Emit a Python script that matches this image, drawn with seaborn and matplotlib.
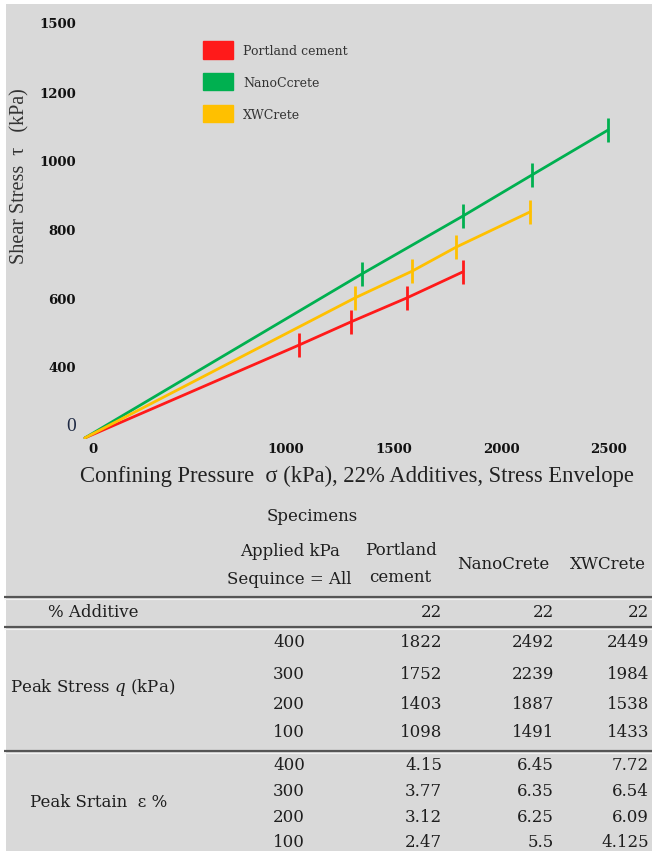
import numpy as np
import pandas as pd
import matplotlib
matplotlib.use("Agg")
import matplotlib.pyplot as plt
from matplotlib.patches import Patch
import seaborn as sns

# ---------------- data ----------------
specimens = ["Portland cement", "NanoCcrete", "XWCrete"]
colors = ["#ff1a1a", "#00b050", "#ffc000"]
origin_sigma = 66
origin_tau = 190
portland_sigma = [1060, 1302, 1562, 1822]
portland_tau = [461, 529, 599, 675]
nano_sigma = [1353, 1822, 2143, 2496]
nano_tau = [669, 838, 958, 1089]
xw_sigma = [1321, 1586, 1790, 2134]
xw_tau = [599, 677, 747, 850]

x_tick_labels = ["0", "1000", "1500", "2000", "2500"]
y_tick_labels = ["0", "400", "600", "800", "1000", "1200", "1500"]

# table data
table_cols = ["Portland\ncement", "NanoCrete", "XWCrete"]
additive_pct = ["22", "22", "22"]
applied_kpa = ["400", "300", "200", "100"]
peak_q_portland = ["1822", "1752", "1403", "1098"]
peak_q_nano = ["2492", "2239", "1887", "1491"]
peak_q_xw = ["2449", "1984", "1538", "1433"]
peak_e_portland = ["4.15", "3.77", "3.12", "2.47"]
peak_e_nano = ["6.45", "6.35", "6.25", "5.5"]
peak_e_xw = ["7.72", "6.54", "6.09", "4.125"]

# ---------------- build frames ----------------
rows = []
pts = []
for name, sx, ty in [(specimens[0], portland_sigma, portland_tau),
                     (specimens[1], nano_sigma, nano_tau),
                     (specimens[2], xw_sigma, xw_tau)]:
    rows.append((name, origin_sigma, origin_tau))
    for a, b in zip(sx, ty):
        rows.append((name, a, b))
        pts.append((name, a, b))
df_line = pd.DataFrame(rows, columns=["Specimen", "sigma", "tau"])
df_pts = pd.DataFrame(pts, columns=["Specimen", "sigma", "tau"])
palette = dict(zip(specimens, colors))

# ---------------- figure ----------------
sns.set_style("white")
plt.rcParams["mathtext.fontset"] = "custom"
plt.rcParams["mathtext.it"] = "DejaVu Serif:italic"
plt.rcParams["mathtext.rm"] = "DejaVu Serif"

W, H = 652, 854
fig = plt.figure(figsize=(W / 100, H / 100), dpi=100, facecolor="white")

# background panel in pixel coordinates
bg = fig.add_axes([0, 0, 1, 1], zorder=0)
bg.set_xlim(0, W)
bg.set_ylim(H, 0)
bg.axis("off")
bg.add_patch(plt.Rectangle((6, 5), W - 6, H - 7, facecolor="#d9d9d9",
                           edgecolor="none"))

# chart axes: left 80px, right 640px, top 10px, bottom 440px
L, R, T, B = 80, 640, 10, 440
ax = fig.add_axes([L / W, 1 - B / H, (R - L) / W, (B - T) / H], zorder=2)
ax.patch.set_alpha(0)

sns.lineplot(data=df_line, x="sigma", y="tau", hue="Specimen", palette=palette,
             sort=False, estimator=None, linewidth=2.0, legend=False, ax=ax)
for name in specimens:
    sub = df_pts[df_pts["Specimen"] == name]
    ax.scatter(sub["sigma"], sub["tau"], marker="|", s=300,
               color=palette[name], linewidths=2.0, zorder=3)

# px mappings: x_px = 70.7 + 0.2153*v ; y_px = 504 - 0.3425*v
ax.set_xlim((L - 70.7) / 0.2153, (R - 70.7) / 0.2153)
ax.set_ylim((504 - B) / 0.3425, (504 - T) / 0.3425)
for s in ax.spines.values():
    s.set_visible(False)

xt = [(93 - 70.7) / 0.2153, 1000, 1500, 2000, 2500]
yt = [(504 - 425) / 0.3425, 400, 600, 800, 1000, 1200, (504 - 23) / 0.3425]
ax.set_xticks(xt)
ax.set_xticklabels(x_tick_labels)
ax.set_yticks(yt)
ax.set_yticklabels(y_tick_labels)
ax.tick_params(length=0, pad=3)
for lab in ax.get_xticklabels() + ax.get_yticklabels():
    lab.set_fontfamily("DejaVu Serif")
    lab.set_fontweight("bold")
    lab.set_fontsize(9.5)
    lab.set_color("#111111")
zero_lab = ax.get_yticklabels()[0]
zero_lab.set_fontfamily("Liberation Serif")
zero_lab.set_fontweight("normal")
zero_lab.set_fontsize(14)
zero_lab.set_color("#1f2a44")
ax.tick_params(axis="x", pad=2)

ax.set_xlabel("Confining Pressure  \u03c3 (kPa), 22% Additives, Stress Envelope",
              fontfamily="Liberation Serif", fontsize=16.3, color="#222222")
ax.xaxis.set_label_coords((357 - L) / (R - L), (B - 466) / (B - T))
ax.set_ylabel("Shear Stress  \u03c4   (kPa)", fontfamily="Liberation Serif",
              fontsize=14.5, color="#333333")
ax.yaxis.set_label_coords((29 - L) / (R - L), (B - 176) / (B - T))

handles = [Patch(facecolor=c, edgecolor=c) for c in colors]
leg = ax.legend(handles, specimens, loc="upper left",
                bbox_to_anchor=(203 / W, 1 - 42 / H), bbox_transform=fig.transFigure,
                frameon=False, borderpad=0, borderaxespad=0,
                handlelength=2.4, handleheight=1.78, labelspacing=1.15,
                handletextpad=0.8,
                prop={"family": "DejaVu Serif", "size": 9})
for t in leg.get_texts():
    t.set_color("#333333")

# ---------------- table (pixel coordinates) ----------------
tf = dict(fontfamily="DejaVu Serif", fontsize=12, color="#1e1e1e",
          va="center")

bg.text(312, 517, "Specimens", ha="center", **tf)
bg.text(290, 552, "Applied kPa", ha="center", **tf)
bg.text(289, 580, "Sequince = All", ha="center", **tf)
bg.text(401, 551, "Portland", ha="center", **tf)
bg.text(400, 578, "cement", ha="center", **tf)
bg.text(503, 565, table_cols[1], ha="center", **tf)
bg.text(608, 565, table_cols[2], ha="center", **tf)

for yy in (598, 628, 752):
    bg.plot([4, W], [yy, yy], color="#555555", lw=1.6, solid_capstyle="butt")
    bg.plot([4, W], [yy + 1.6, yy + 1.6], color="#f2f2f2", lw=0.8,
            solid_capstyle="butt")

col_right = [442, 554, 649]
bg.text(93, 613, "% Additive", ha="center", **tf)
for xr, v in zip(col_right, additive_pct):
    bg.text(xr, 613, v, ha="right", **tf)

q_rows = [643, 675, 705, 733]
bg.text(10, 688, "Peak Stress $q$ (kPa)", ha="left", **tf)
for i, yy in enumerate(q_rows):
    bg.text(289, yy, applied_kpa[i], ha="center", **tf)
    for xr, col in zip(col_right, [peak_q_portland, peak_q_nano, peak_q_xw]):
        bg.text(xr, yy, col[i], ha="right", **tf)

e_rows = [766, 792, 818, 843]
bg.text(30, 803, "Peak Srtain  \u03b5 %", ha="left", **tf)
for i, yy in enumerate(e_rows):
    bg.text(289, yy, applied_kpa[i], ha="center", **tf)
    for xr, col in zip(col_right, [peak_e_portland, peak_e_nano, peak_e_xw]):
        bg.text(xr, yy, col[i], ha="right", **tf)

fig.savefig("out.png", dpi=100, facecolor="white")
